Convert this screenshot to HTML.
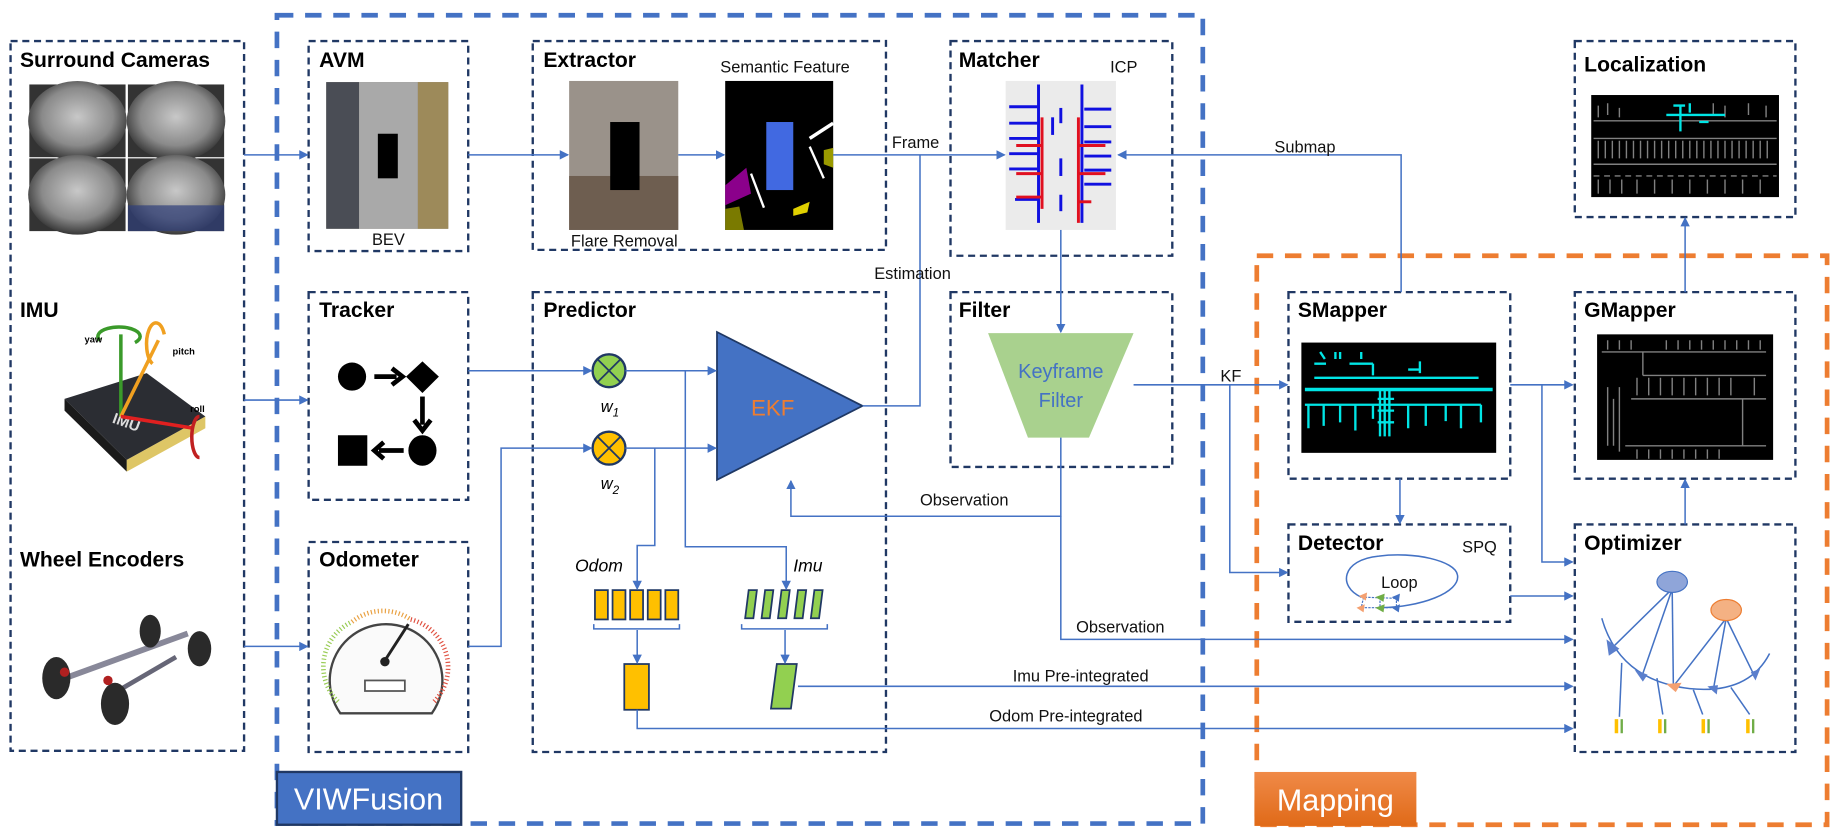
<!DOCTYPE html>
<html><head><meta charset="utf-8"><style>
html,body{margin:0;padding:0;background:#fff;}
svg{display:block;}
text{font-family:"Liberation Sans",sans-serif;}
.t{font-size:18px;font-weight:bold;fill:#000;}
.l{font-size:14px;fill:#111;}
.box{fill:none;stroke:#203864;stroke-width:2;stroke-dasharray:6 4;}
.ln{fill:none;stroke:#4472C4;stroke-width:1.3;}
.g{stroke:#808080;stroke-width:1.2;fill:none;}
.c{stroke:#00E5E5;stroke-width:2;fill:none;}
</style></head><body>
<svg width="1840" height="840" viewBox="0 0 1568 716" preserveAspectRatio="none" xmlns="http://www.w3.org/2000/svg">
<defs>
<marker id="a" markerWidth="8" markerHeight="8" refX="7" refY="4" orient="auto" markerUnits="userSpaceOnUse"><path d="M0,0 L8,4 L0,8 z" fill="#4472C4"/></marker>
<radialGradient id="fe" cx="50%" cy="45%" r="60%"><stop offset="0" stop-color="#c8c8c8"/><stop offset="0.6" stop-color="#8a8a8a"/><stop offset="1" stop-color="#222"/></radialGradient>
<linearGradient id="og" x1="0" y1="0" x2="0" y2="1"><stop offset="0" stop-color="#F08A48"/><stop offset="1" stop-color="#E06A18"/></linearGradient>
</defs>

<!-- outer groups -->
<rect x="236" y="13" width="789" height="689" fill="none" stroke="#4472C4" stroke-width="4" stroke-dasharray="14 10"/>
<rect x="1071" y="218" width="486" height="485" fill="none" stroke="#ED7D31" stroke-width="4" stroke-dasharray="14 10"/>
<rect x="236" y="658" width="157" height="45" fill="#4472C4" stroke="#203864" stroke-width="2"/>
<text x="314" y="690" text-anchor="middle" style="font-size:26px;fill:#fff">VIWFusion</text>
<rect x="1069" y="658" width="138" height="46" fill="url(#og)"/>
<text x="1138" y="691" text-anchor="middle" style="font-size:26px;fill:#fff">Mapping</text>

<!-- boxes -->
<rect class="box" x="9" y="35" width="199" height="605"/>
<rect class="box" x="263" y="35" width="136" height="179"/>
<rect class="box" x="263" y="249" width="136" height="177"/>
<rect class="box" x="263" y="462" width="136" height="179"/>
<rect class="box" x="454" y="35" width="301" height="178"/>
<rect class="box" x="454" y="249" width="301" height="392"/>
<rect class="box" x="810" y="35" width="189" height="183"/>
<rect class="box" x="810" y="249" width="189" height="149"/>
<rect class="box" x="1342" y="35" width="188" height="150"/>
<rect class="box" x="1098" y="249" width="189" height="159"/>
<rect class="box" x="1342" y="249" width="188" height="159"/>
<rect class="box" x="1098" y="447" width="189" height="83"/>
<rect class="box" x="1342" y="447" width="188" height="194"/>

<!-- titles -->
<text class="t" x="17" y="57">Surround Cameras</text>
<text class="t" x="17" y="270">IMU</text>
<text class="t" x="17" y="483">Wheel Encoders</text>
<text class="t" x="272" y="57">AVM</text>
<text class="t" x="272" y="270">Tracker</text>
<text class="t" x="272" y="483">Odometer</text>
<text class="t" x="463" y="57">Extractor</text>
<text class="t" x="463" y="270">Predictor</text>
<text class="t" x="817" y="57">Matcher</text>
<text class="t" x="817" y="270">Filter</text>
<text class="t" x="1350" y="61">Localization</text>
<text class="t" x="1106" y="270">SMapper</text>
<text class="t" x="1350" y="270">GMapper</text>
<text class="t" x="1106" y="469">Detector</text>
<text class="t" x="1350" y="469">Optimizer</text>

<!-- cameras -->
<g>
<rect x="25" y="72" width="82" height="62" fill="#333"/><ellipse cx="66" cy="103" rx="42" ry="34" fill="url(#fe)"/>
<rect x="109" y="72" width="82" height="62" fill="#333"/><ellipse cx="150" cy="103" rx="42" ry="34" fill="url(#fe)"/>
<rect x="25" y="135" width="82" height="62" fill="#333"/><ellipse cx="66" cy="166" rx="42" ry="34" fill="url(#fe)"/>
<rect x="109" y="135" width="82" height="62" fill="#333"/><ellipse cx="150" cy="166" rx="42" ry="34" fill="url(#fe)"/>
<rect x="109" y="175" width="82" height="22" fill="#2f3f7a" opacity="0.7"/>
</g>
<!-- IMU chip -->
<g>
<polygon points="55,340 125,318 175,355 108,392" fill="#2b2d33"/>
<polygon points="55,340 108,392 108,402 55,350" fill="#1a1a1a"/>
<polygon points="108,392 175,355 175,365 108,402" fill="#c8a000" opacity="0.6"/>
<text x="95" y="360" style="font-size:13px;font-weight:bold;fill:#ddd" transform="rotate(20 95 360)">IMU</text>
<line x1="103" y1="355" x2="103" y2="285" stroke="#3a9a2a" stroke-width="3"/>
<line x1="103" y1="355" x2="135" y2="290" stroke="#F0A020" stroke-width="3"/>
<line x1="103" y1="355" x2="165" y2="365" stroke="#e02020" stroke-width="3"/>
<path d="M85,290 A18,8 0 1 1 115,292" fill="none" stroke="#3a9a2a" stroke-width="3"/>
<path d="M130,310 A8,18 0 1 1 140,285" fill="none" stroke="#F0A020" stroke-width="3"/>
<path d="M170,355 A6,16 0 1 0 170,390" fill="none" stroke="#c02020" stroke-width="3"/>
<text x="72" y="292" style="font-size:8px;font-weight:bold">yaw</text>
<text x="147" y="302" style="font-size:8px;font-weight:bold">pitch</text>
<text x="162" y="351" style="font-size:8px;font-weight:bold">roll</text>
</g>
<!-- chassis -->
<g>
<line x1="50" y1="580" x2="160" y2="540" stroke="#889" stroke-width="5"/>
<line x1="90" y1="595" x2="150" y2="560" stroke="#667" stroke-width="4"/>
<ellipse cx="48" cy="578" rx="12" ry="18" fill="#2a2a2a"/><ellipse cx="98" cy="600" rx="12" ry="18" fill="#2a2a2a"/>
<ellipse cx="128" cy="538" rx="9" ry="14" fill="#2a2a2a"/><ellipse cx="170" cy="553" rx="10" ry="15" fill="#2a2a2a"/>
<circle cx="55" cy="573" r="4" fill="#b02020"/><circle cx="92" cy="580" r="4" fill="#b02020"/>
</g>

<!-- AVM image -->
<rect x="278" y="70" width="104" height="125" fill="#8a8578"/>
<rect x="278" y="70" width="28" height="125" fill="#4a4d55"/>
<rect x="356" y="70" width="26" height="125" fill="#9d8a5a"/>
<rect x="306" y="70" width="50" height="125" fill="#a9a9a9"/>
<rect x="322" y="114" width="17" height="38" fill="#000"/>
<text x="331" y="209" text-anchor="middle" class="l">BEV</text>

<!-- extractor images -->
<rect x="485" y="69" width="93" height="127" fill="#9a928a"/>
<rect x="485" y="150" width="93" height="46" fill="#6e5e50"/>
<rect x="520" y="104" width="25" height="58" fill="#000"/>
<rect x="618" y="69" width="92" height="127" fill="#000"/>
<rect x="653" y="104" width="23" height="58" fill="#4169E1"/>
<polygon points="618,158 636,143 640,165 618,175" fill="#8B008B"/>
<line x1="690" y1="118" x2="710" y2="105" stroke="#fff" stroke-width="3"/>
<line x1="690" y1="125" x2="702" y2="152" stroke="#fff" stroke-width="2"/>
<line x1="640" y1="148" x2="651" y2="177" stroke="#fff" stroke-width="2"/>
<polygon points="702,128 710,126 710,143 702,140" fill="#9a9a00"/>
<polygon points="618,178 630,176 634,196 618,196" fill="#7a7a00"/>
<polygon points="676,178 690,172 688,181 676,184" fill="#e0d000"/>
<text x="669" y="62" text-anchor="middle" class="l">Semantic Feature</text>
<text x="532" y="210" text-anchor="middle" class="l">Flare Removal</text>

<!-- matcher image -->
<rect x="857" y="69" width="94" height="127" fill="#ebebeb"/>
<g stroke="#1010e0" stroke-width="2.5">
<line x1="860" y1="91" x2="884" y2="91"/><line x1="860" y1="105" x2="884" y2="105"/><line x1="860" y1="118" x2="884" y2="118"/><line x1="860" y1="131" x2="884" y2="131"/><line x1="860" y1="144" x2="884" y2="144"/><line x1="865" y1="170" x2="884" y2="170"/>
<line x1="924" y1="93" x2="947" y2="93"/><line x1="924" y1="108" x2="947" y2="108"/><line x1="924" y1="121" x2="947" y2="121"/><line x1="924" y1="133" x2="947" y2="133"/><line x1="924" y1="145" x2="947" y2="145"/><line x1="924" y1="157" x2="947" y2="157"/>
<line x1="885" y1="72" x2="885" y2="190"/><line x1="922" y1="72" x2="922" y2="190"/><line x1="904" y1="92" x2="904" y2="105"/><line x1="897" y1="100" x2="897" y2="115"/><line x1="904" y1="135" x2="904" y2="150"/><line x1="904" y1="166" x2="904" y2="180"/>
</g>
<g stroke="#e01020" stroke-width="2.5">
<line x1="888" y1="100" x2="888" y2="178"/><line x1="919" y1="100" x2="919" y2="190"/>
<line x1="866" y1="124" x2="888" y2="124"/><line x1="866" y1="148" x2="888" y2="148"/><line x1="866" y1="168" x2="888" y2="168"/>
<line x1="919" y1="124" x2="942" y2="124"/><line x1="919" y1="148" x2="942" y2="148"/><line x1="919" y1="172" x2="930" y2="172"/>
</g>
<text x="946" y="62" class="l">ICP</text>

<!-- localization -->
<rect x="1356" y="81" width="160" height="87" fill="#000"/>
<g class="g">
<line x1="1358" y1="103" x2="1514" y2="103"/><line x1="1358" y1="118" x2="1514" y2="118"/><line x1="1358" y1="140" x2="1514" y2="140"/><line x1="1358" y1="150" x2="1514" y2="150" stroke-dasharray="5 4"/>
<path d="M1362,90 v10 M1370,88 v10 M1380,92 v8 M1460,88 v10 M1470,90 v10 M1490,88 v10 M1505,90 v10"/>
<path d="M1362,120 v15 M1368,120 v15 M1374,120 v15 M1380,120 v15 M1386,120 v15 M1392,120 v15 M1398,120 v15 M1404,120 v15 M1410,120 v15 M1416,120 v15 M1422,120 v15 M1428,120 v15 M1434,120 v15 M1440,120 v15 M1446,120 v15 M1452,120 v15 M1458,120 v15 M1464,120 v15 M1470,120 v15 M1476,120 v15 M1482,120 v15 M1488,120 v15 M1494,120 v15 M1500,120 v15 M1506,120 v15"/>
<path d="M1362,153 v12 M1372,153 v12 M1382,153 v12 M1395,153 v12 M1410,153 v12 M1425,153 v12 M1440,153 v12 M1455,153 v12 M1470,153 v12 M1485,153 v12 M1500,153 v12"/>
</g>
<g class="c"><line x1="1420" y1="98" x2="1470" y2="98"/><line x1="1432" y1="90" x2="1432" y2="112"/><path d="M1426,90 h10 M1440,88 v8 M1448,104 h8"/></g>

<!-- smapper image -->
<rect x="1109" y="292" width="166" height="94" fill="#000"/>
<g class="c">
<line x1="1112" y1="332" x2="1272" y2="332" stroke-width="3"/><line x1="1120" y1="322" x2="1260" y2="322"/>
<path d="M1112,345 h150 M1115,345 v20 M1128,345 v18 M1142,345 v15 M1155,345 v22 M1170,345 v12 M1200,345 v20 M1215,345 v18 M1232,345 v14 M1245,345 v20 M1262,345 v15"/>
<path d="M1176,332 v40 M1180,332 v40 M1184,332 v40 M1174,340 h14 M1174,350 h14 M1174,360 h14"/>
<path d="M1125,300 l4,6 M1138,300 v6 M1142,300 v6 M1160,300 v6 M1150,310 h20 M1170,310 v10 M1120,310 h10 M1200,315 h10 M1210,308 v10"/>
</g>
<!-- gmapper image -->
<rect x="1361" y="285" width="150" height="107" fill="#000"/>
<g class="g">
<path d="M1365,300 h140 M1400,300 v20 M1400,320 h105 M1380,330 v55 M1390,340 h115 M1385,380 h120 M1485,340 v40"/>
<path d="M1370,290 v8 M1380,290 v8 M1390,290 v8 M1420,290 v8 M1430,290 v8 M1440,290 v8 M1450,290 v8 M1460,290 v8 M1470,290 v8 M1480,290 v8 M1490,290 v8 M1500,290 v8"/>
<path d="M1395,322 v15 M1405,322 v15 M1415,322 v15 M1425,322 v15 M1435,322 v15 M1445,322 v15 M1455,322 v15 M1465,322 v15 M1475,322 v15 M1495,322 v15"/>
<path d="M1370,330 v50 M1375,340 v40 M1395,383 v8 M1405,383 v8 M1415,383 v8 M1425,383 v8 M1435,383 v8 M1445,383 v8 M1455,383 v8 M1465,383 v8"/>
</g>

<!-- tracker icons -->
<circle cx="300" cy="321" r="12"/>
<line x1="319" y1="321" x2="338" y2="321" stroke="#000" stroke-width="4"/><path d="M334,314 L343,321 L334,328" fill="none" stroke="#000" stroke-width="4"/>
<polygon points="360,308 374,321 360,335 346,321"/>
<line x1="360" y1="338" x2="360" y2="362" stroke="#000" stroke-width="4"/><path d="M353,358 L360,367 L367,358" fill="none" stroke="#000" stroke-width="4"/>
<ellipse cx="360" cy="384" rx="12" ry="13"/>
<rect x="288" y="371" width="25" height="26"/>
<line x1="323" y1="384" x2="344" y2="384" stroke="#000" stroke-width="4"/><path d="M327,377 L319,384 L327,391" fill="none" stroke="#000" stroke-width="4"/>

<!-- speedometer -->
<g>
<path d="M290,608 A48,48 0 1 1 368,608 Z" fill="#fafafa" stroke="#444" stroke-width="2"/>
<path d="M288,598 A42,42 0 0 1 300,530" fill="none" stroke="#9c5" stroke-width="4" stroke-dasharray="1 2"/>
<path d="M300,530 A42,42 0 0 1 350,528" fill="none" stroke="#e9a040" stroke-width="4" stroke-dasharray="1 2"/>
<path d="M350,528 A42,42 0 0 1 370,598" fill="none" stroke="#e05040" stroke-width="4" stroke-dasharray="1 2"/>
<line x1="328" y1="563" x2="348" y2="532" stroke="#222" stroke-width="2.5"/><circle cx="328" cy="564" r="4" fill="#222"/>
<rect x="311" y="580" width="34" height="9" fill="#fff" stroke="#555" stroke-width="1.5"/>
</g>

<!-- predictor -->
<polygon points="611,283 611,409 735,346" fill="#4472C4" stroke="#1F3864" stroke-width="1.5"/>
<text x="640" y="354" style="font-size:19px;fill:#ED7D31">EKF</text>
<circle cx="519" cy="316" r="14" fill="#92D050" stroke="#203864" stroke-width="2"/>
<path d="M509,306 L529,326 M529,306 L509,326" stroke="#203864" stroke-width="1.5"/>
<circle cx="519" cy="382" r="14" fill="#FFC000" stroke="#203864" stroke-width="2"/>
<path d="M509,372 L529,392 M529,372 L509,392" stroke="#203864" stroke-width="1.5"/>
<text x="512" y="351" style="font-size:14px;font-style:italic">w<tspan dy="4" style="font-size:10px">1</tspan></text>
<text x="512" y="417" style="font-size:14px;font-style:italic">w<tspan dy="4" style="font-size:10px">2</tspan></text>
<text x="490" y="487" style="font-size:15px;font-style:italic">Odom</text>
<text x="676" y="487" style="font-size:15px;font-style:italic">Imu</text>
<g fill="#FFC000" stroke="#203864" stroke-width="1.5">
<rect x="507" y="503" width="11" height="25"/><rect x="522" y="503" width="11" height="25"/><rect x="537" y="503" width="11" height="25"/><rect x="552" y="503" width="11" height="25"/><rect x="567" y="503" width="11" height="25"/>
<rect x="532" y="566" width="21" height="39"/>
</g>
<g fill="#92D050" stroke="#203864" stroke-width="1.5">
<polygon points="635,527 638,503 645,503 642,527"/><polygon points="649,527 652,503 659,503 656,527"/><polygon points="663,527 666,503 673,503 670,527"/><polygon points="677,527 680,503 687,503 684,527"/><polygon points="691,527 694,503 701,503 698,527"/>
<polygon points="657,604 662,566 679,566 674,604"/>
</g>
<path d="M506,532 v4 h73 v-4" class="ln" stroke-width="1"/>
<path d="M632,532 v4 h73 v-4" class="ln" stroke-width="1"/>

<!-- loop in detector -->
<path d="M1160,509 C1140,500 1143,477 1175,474 C1205,470 1240,478 1242,490 C1245,505 1210,518 1175,518" class="ln"/>
<path d="M1160,509 L1190,510 M1160,518 L1190,518 M1162,509 L1160,518 M1176,509 L1176,518 M1190,509 L1190,518" stroke="#4472C4" stroke-width="1" stroke-dasharray="2 1" fill="none"/>
<polygon points="1158,508 1165,505 1164,512" fill="#F4A070"/><polygon points="1156,518 1163,515 1162,522" fill="#F4A070"/>
<polygon points="1172,509 1180,506 1179,513" fill="#70AD47"/><polygon points="1172,518 1180,515 1179,522" fill="#70AD47"/>
<polygon points="1186,509 1193,506 1192,513" fill="#4472C4"/><polygon points="1186,518 1193,515 1192,522" fill="#4472C4"/>
<text x="1177" y="501" class="l">Loop</text>
<text x="1246" y="471" class="l">SPQ</text>

<!-- keyframe filter -->
<polygon points="842,284 966,284 928,373 876,373" fill="#A9D18E"/>
<text x="904" y="322" text-anchor="middle" style="font-size:17px;fill:#4472C4">Keyframe</text>
<text x="904" y="347" text-anchor="middle" style="font-size:17px;fill:#4472C4">Filter</text>

<!-- optimizer graph -->
<path d="M1365,527 Q1380,580 1440,587 Q1490,592 1508,557" class="ln" stroke-width="1.2"/>
<g class="ln" stroke-width="1">
<line x1="1425" y1="502" x2="1373" y2="553"/><line x1="1425" y1="502" x2="1399" y2="577"/><line x1="1425" y1="502" x2="1426" y2="585"/>
<line x1="1471" y1="527" x2="1426" y2="585"/><line x1="1471" y1="527" x2="1460" y2="588"/><line x1="1471" y1="527" x2="1496" y2="578"/>
<line x1="1382" y1="565" x2="1380" y2="611"/><line x1="1412" y1="578" x2="1417" y2="609"/><line x1="1443" y1="588" x2="1451" y2="609"/><line x1="1475" y1="586" x2="1491" y2="609"/>
</g>
<ellipse cx="1425" cy="496" rx="13" ry="9" fill="#8FA5D9" stroke="#4472C4"/>
<ellipse cx="1471" cy="520" rx="13" ry="9" fill="#F4B183" stroke="#ED7D31"/>
<g fill="#5B7FCC"><polygon points="1369,545 1380,553 1371,559"/><polygon points="1393,571 1404,575 1400,581"/><polygon points="1455,585 1464,584 1463,592"/><polygon points="1492,573 1500,570 1496,580"/></g>
<polygon points="1420,583 1433,582 1428,590" fill="#F4A070"/>
<g><rect x="1376" y="613" width="3" height="12" fill="#FFC000"/><rect x="1381" y="613" width="2" height="12" fill="#70AD47"/>
<rect x="1413" y="613" width="3" height="12" fill="#FFC000"/><rect x="1418" y="613" width="2" height="12" fill="#70AD47"/>
<rect x="1450" y="613" width="3" height="12" fill="#FFC000"/><rect x="1455" y="613" width="2" height="12" fill="#70AD47"/>
<rect x="1488" y="613" width="3" height="12" fill="#FFC000"/><rect x="1493" y="613" width="2" height="12" fill="#70AD47"/></g>

<!-- connectors -->
<g class="ln" marker-end="url(#a)">
<path d="M208,132 H262"/>
<path d="M208,341 H262"/>
<path d="M208,551 H262"/>
<path d="M399,132 H484"/>
<path d="M578,132 H617"/>
<path d="M710,132 H856"/>
<path d="M735,346 H784 V132" marker-end="none"/>
<path d="M1194,249 V132 H953"/>
<path d="M904,196 V283"/>
<path d="M399,316 H504"/>
<path d="M533,316 H610"/>
<path d="M399,551 H427 V382 H504"/>
<path d="M533,382 H610"/>
<path d="M904,373 V440 H674 V410"/>
<path d="M584,316 V466 H670 V502"/>
<path d="M558,382 V465 H543 V502"/>
<path d="M543,537 V565"/>
<path d="M669,537 V565"/>
<path d="M966,328 H1097"/>
<path d="M1048,328 V488 H1097"/>
<path d="M1193,408 V446"/>
<path d="M1287,328 H1340"/>
<path d="M1314,328 V479 H1340"/>
<path d="M1287,508 H1340"/>
<path d="M904,440 V545 H1340"/>
<path d="M680,585 H1340"/>
<path d="M543,605 V621 H1340"/>
<path d="M1436,447 V409"/>
<path d="M1436,249 V186"/>
</g>

<!-- connector labels -->
<text x="760" y="126" class="l">Frame</text>
<text x="745" y="238" class="l">Estimation</text>
<text x="1086" y="130" class="l">Submap</text>
<text x="1040" y="325" class="l">KF</text>
<text x="784" y="431" class="l">Observation</text>
<text x="917" y="539" class="l">Observation</text>
<text x="863" y="581" class="l">Imu Pre-integrated</text>
<text x="843" y="615" class="l">Odom Pre-integrated</text>
</svg>
</body></html>
